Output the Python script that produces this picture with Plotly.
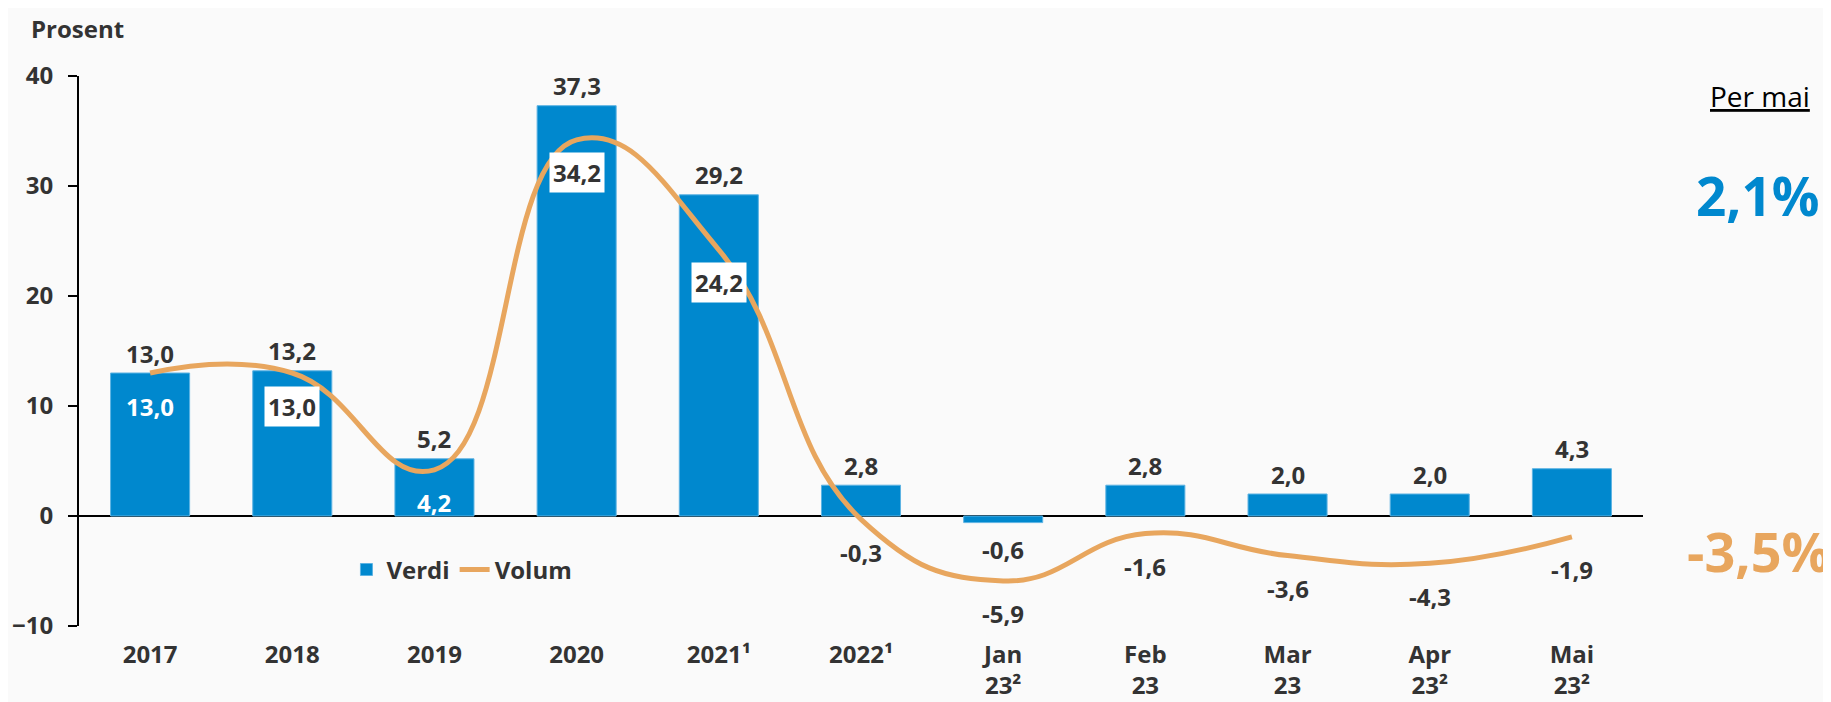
import plotly.graph_objects as go

# data
categories = ['2017', '2018', '2019', '2020', '2021¹', '2022¹',
              'Jan<br>23²', 'Feb<br>23', 'Mar<br>23', 'Apr<br>23²', 'Mai<br>23²']
verdi = [13.0, 13.2, 5.2, 37.3, 29.2, 2.8, -0.6, 2.8, 2.0, 2.0, 4.3]
volum = [13.0, 13.0, 4.2, 34.2, 24.2, -0.3, -5.9, -1.6, -3.6, -4.3, -1.9]
y_ticks = [-10, 0, 10, 20, 30, 40]

per_label = 'Per mai'
per_verdi = '2,1%'
per_volum = '-3,5%'

BLUE = '#0088CE'
ORANGE = '#E8A65E'
DARK = '#333333'
BG = '#FAFAFA'
FONT = 'Open Sans'

# how each volum label is drawn: 'white' text on bar, 'box' with white background, 'plain'
volum_style = ['white', 'box', 'white', 'box', 'box', 'plain',
               'plain', 'plain', 'plain', 'plain', 'plain']


def fmt(v):
    return '{:.1f}'.format(v).replace('.', ',')


fig = go.Figure()

fig.add_trace(go.Bar(
    x=categories, y=verdi, name='Verdi',
    marker=dict(color=BLUE, line=dict(color='#5DB3E3', width=1)),
))

fig.add_trace(go.Scatter(
    x=categories, y=volum, name='Volum', mode='lines',
    line=dict(color=ORANGE, width=5, shape='spline', smoothing=1.3),
))

# annotations use the category index, since '2017' etc would be read as numbers
annotations = []
for i, v in enumerate(verdi):
    annotations.append(dict(
        x=i, y=v, xref='x', yref='y', text=fmt(v), showarrow=False,
        yshift=20 if v >= 0 else -27,
        font=dict(family=FONT, size=24, color=DARK, weight='bold'),
    ))

for i, (v, style) in enumerate(zip(volum, volum_style)):
    ann = dict(
        x=i, y=v, xref='x', yref='y', text=fmt(v), showarrow=False,
        yshift=-33,
        font=dict(family=FONT, size=24, color=DARK, weight='bold'),
    )
    if style == 'white':
        ann['font']['color'] = 'white'
    elif style == 'box':
        ann['bgcolor'] = 'white'
        ann['borderpad'] = 3
    annotations.append(ann)

annotations += [
    dict(x=-0.032, y=1.087, xref='paper', yref='paper', text='Prosent',
         showarrow=False, xanchor='left', yanchor='middle',
         font=dict(family=FONT, size=24, color=DARK, weight='bold')),
    dict(x=1.108, y=0.964, xref='paper', yref='paper', text='<u>' + per_label + '</u>',
         showarrow=False, xanchor='right', yanchor='middle',
         font=dict(family=FONT, size=28, color='black')),
    dict(x=1.114, y=0.782, xref='paper', yref='paper', text=per_verdi,
         showarrow=False, xanchor='right', yanchor='middle',
         font=dict(family=FONT, size=53, color=BLUE, weight='bold')),
    dict(x=1.121, y=0.137, xref='paper', yref='paper', text=per_volum,
         showarrow=False, xanchor='right', yanchor='middle',
         font=dict(family=FONT, size=54, color=ORANGE, weight='bold')),
]

# the page body adds 8px around the figure, so the figure is 8px smaller
fig.update_layout(
    width=1823, height=694,
    margin=dict(l=71, r=188, t=68, b=76),
    paper_bgcolor=BG, plot_bgcolor=BG,
    bargap=0.444,
    font=dict(family=FONT, color=DARK),
    showlegend=True,
    legend=dict(
        orientation='h', x=0.171, y=0.102, xanchor='left', yanchor='middle',
        bgcolor='rgba(0,0,0,0)',
        font=dict(family=FONT, size=24, color=DARK, weight='bold'),
    ),
    annotations=annotations,
)

fig.update_xaxes(
    type='category', range=[-0.5, 10.5], automargin=False,
    showline=False, showgrid=False, ticks='',
    ticklabelstandoff=12,
    tickfont=dict(family=FONT, size=24, color=DARK, weight='bold'),
)

fig.update_yaxes(
    range=[-10, 40], tickvals=y_ticks, automargin=False,
    showgrid=False, showline=True, linecolor='black', linewidth=2,
    ticks='outside', ticklen=9, tickwidth=2, tickcolor='black',
    ticklabelstandoff=10,
    zeroline=True, zerolinecolor='black', zerolinewidth=2,
    tickfont=dict(family=FONT, size=24, color=DARK, weight='bold'),
)

fig.write_html('out.html')
